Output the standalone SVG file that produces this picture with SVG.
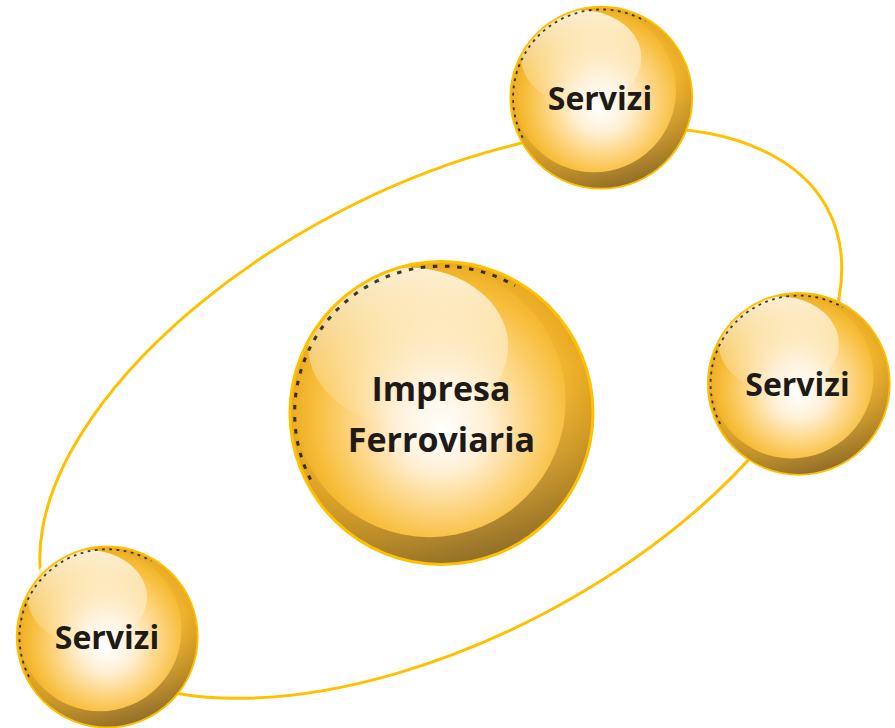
<svg xmlns="http://www.w3.org/2000/svg" xmlns:xlink="http://www.w3.org/1999/xlink" width="895" height="728" viewBox="0 0 895 728">
<style>
.lbl{font-family:"Open Sans","Noto Sans","Liberation Sans",sans-serif;font-weight:700;fill:#1E1A16;text-anchor:middle}
.small{font-size:32px}
.big{font-size:34px}
.orbit{fill:none;stroke:#FFC000;stroke-width:3}
</style>
<defs>
<radialGradient id="gFill" cx="0.5" cy="0.5" r="0.5" fx="0.5" fy="0.56">
<stop offset="0" stop-color="#FFFFFF"/>
<stop offset="0.3" stop-color="#FFF0D6"/>
<stop offset="0.6" stop-color="#FDD47E"/>
<stop offset="0.85" stop-color="#F7BD38"/>
<stop offset="1" stop-color="#EAAB22"/>
</radialGradient>
<linearGradient id="gShade" x1="0.35" y1="0.15" x2="0.6" y2="1">
<stop offset="0.4" stop-color="#E6A723" stop-opacity="0.35"/>
<stop offset="1" stop-color="#8A6A2A" stop-opacity="0.95"/>
</linearGradient>
<linearGradient id="gHi" x1="0" y1="0" x2="0" y2="1">
<stop offset="0" stop-color="#FFFFFF" stop-opacity="0.8"/>
<stop offset="1" stop-color="#FFFFFF" stop-opacity="0.05"/>
</linearGradient>
<g id="ball">
<circle r="100" fill="url(#gFill)"/>
<path d="M0,-100 A100,100 0 1,1 0,100 A100,100 0 1,1 0,-100 Z M-8,-98 A90,90 0 1,0 -8,82 A90,90 0 1,0 -8,-98 Z" fill="url(#gShade)" fill-rule="evenodd"/>
<ellipse cx="-22" cy="-44" rx="66" ry="52" fill="url(#gHi)"/>
<path d="M-86.4,44 A97,97 0 0,1 48.5,-84" fill="none" stroke="#000" stroke-width="2" stroke-dasharray="3 5" opacity="0.75"/>
<circle r="100" fill="none" stroke="#FFC000" stroke-width="2"/>
</g>
</defs>
<g id="connectors">
<ellipse class="orbit" cx="440.8" cy="413.1" rx="437.4" ry="225.4" transform="rotate(-27.8 440.8 413.1)"/>
</g>
<g id="node-impresa">
<use xlink:href="#ball" transform="translate(441.5,413) scale(1.515)"/>
<text class="lbl big" x="441" y="401">Impresa</text>
<text class="lbl big" x="441.5" y="452">Ferroviaria</text>
</g>
<g id="node-servizi-top">
<use xlink:href="#ball" transform="translate(601.3,97.7) scale(0.91)"/>
<text class="lbl small" x="600" y="110">Servizi</text>
</g>
<g id="node-servizi-right">
<use xlink:href="#ball" transform="translate(798.8,383.8) scale(0.91)"/>
<text class="lbl small" x="797.5" y="396">Servizi</text>
</g>
<g id="node-servizi-left">
<use xlink:href="#ball" transform="translate(107.2,637) scale(0.905)"/>
<text class="lbl small" x="107" y="649">Servizi</text>
</g>
</svg>
